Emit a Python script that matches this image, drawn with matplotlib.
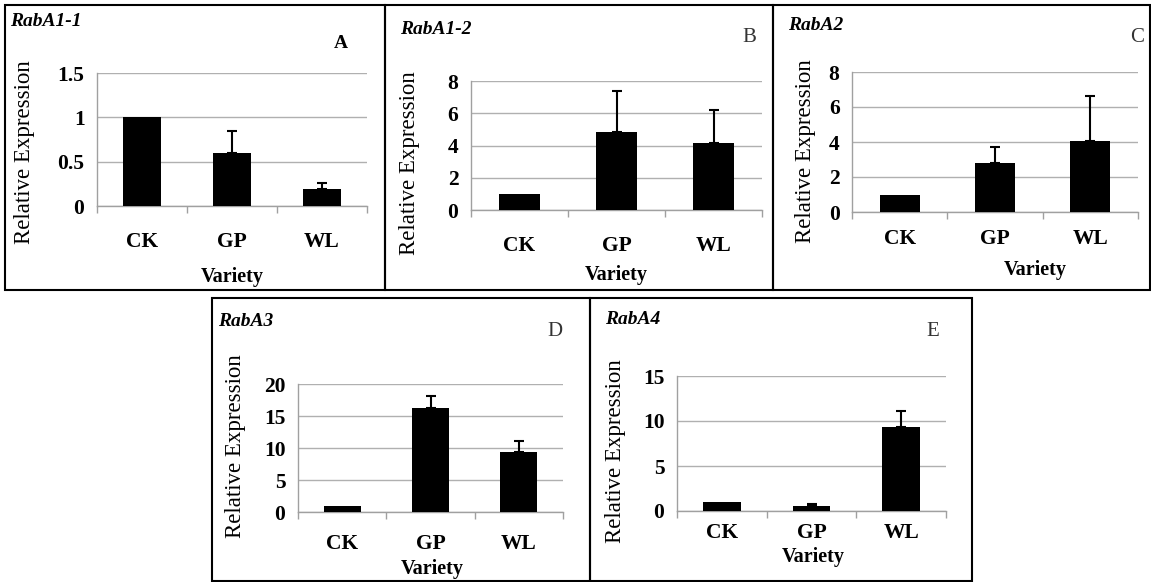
import matplotlib.pyplot as plt
from matplotlib.patches import Rectangle
import numpy as np

varieties = ['CK', 'GP', 'WL']

genes = ['RabA1-1', 'RabA1-2', 'RabA2', 'RabA3', 'RabA4']
letters = ['A', 'B', 'C', 'D', 'E']

means = [
    [1.0, 0.60, 0.19],
    [1.0, 4.82, 4.14],
    [1.0, 2.80, 4.06],
    [1.0, 16.2, 9.3],
    [1.0, 0.55, 9.33],
]
errors = [
    [0.0, 0.25, 0.07],
    [0.0, 2.57, 2.07],
    [0.0, 0.91, 2.57],
    [0.0, 2.0, 1.8],
    [0.0, 0.27, 1.8],
]
y_max = [1.5, 8, 8, 20, 15]
y_step = [0.5, 2, 2, 5, 5]

W, H = 1151, 582

# layout in pixels (x0, y0, x1, y1)
axes_px = [
    (97, 73, 367, 206),
    (471, 81, 762, 210),
    (852, 72, 1138, 212),
    (298, 384, 563, 512),
    (677, 376, 946, 511),
]
boxes_px = [
    (5, 5, 385, 290),
    (385, 5, 773, 290),
    (773, 5, 1150, 290),
    (212, 298, 590, 581),
    (590, 298, 972, 581),
]
title_px = [(10, 22), (400, 30), (788, 26), (218, 322), (605, 320)]
letter_px = [(341, 44), (749, 38), (1137, 38), (555, 331), (933, 331)]
ylabel_px = [(25, 152), (410, 163), (805, 151), (235, 446), (615, 451)]
variety_px = [(232, 277), (616, 275), (1035, 270), (432, 569), (813, 557)]
xpad = [19, 19, 12, 16, 9]

SERIF = 'Liberation Serif'
plt.rcParams['font.family'] = [SERIF, 'DejaVu Serif']

fig = plt.figure(figsize=(W / 100, H / 100), dpi=100)


def fx(x):
    return x / W


def fy(y):
    return 1 - y / H


for i in range(5):
    x0, y0, x1, y1 = axes_px[i]
    ax = fig.add_axes([fx(x0), fy(y1), (x1 - x0) / W, (y1 - y0) / H])

    pos = np.arange(len(varieties))
    ax.bar(pos, means[i], width=0.42, color='black', zorder=3)
    err = np.array(errors[i])
    m = err > 0
    ax.errorbar(pos[m], np.array(means[i])[m], yerr=[np.zeros(m.sum()), err[m]],
                fmt='none', ecolor='black', elinewidth=1.5, capsize=3.5,
                capthick=1.5, zorder=4)

    ax.set_xlim(-0.5, 2.5)
    ax.set_ylim(0, y_max[i])
    ticks = np.arange(0, y_max[i] + y_step[i] / 2, y_step[i])
    ax.set_yticks(ticks)
    ax.set_yticklabels(['%g' % t for t in ticks])
    ax.set_xticks(pos)
    ax.set_xticklabels(varieties)
    ax.set_xticks([-0.5, 0.5, 1.5, 2.5], minor=True)

    ax.tick_params(axis='x', which='major', length=0, pad=xpad[i], labelsize=15.5)
    ax.tick_params(axis='x', which='minor', length=5, color='#a0a0a0', width=1)
    ax.tick_params(axis='y', length=0, pad=9, labelsize=15.5)
    for lab in ax.get_xticklabels() + ax.get_yticklabels():
        lab.set_fontweight('bold')
        lab.set_family(SERIF)

    ax.grid(axis='y', color='#b0b0b0', linewidth=1, zorder=0)
    ax.set_axisbelow(True)
    for s in ['top', 'right']:
        ax.spines[s].set_visible(False)
    for s in ['left', 'bottom']:
        ax.spines[s].set_color('#a0a0a0')
        ax.spines[s].set_linewidth(1)

    tx, ty = title_px[i]
    fig.text(fx(tx), fy(ty), genes[i], fontsize=14, fontweight='bold',
             fontstyle='italic', family=SERIF, ha='left', va='center')
    lx, ly = letter_px[i]
    if i == 0:
        fig.text(fx(lx), fy(ly), letters[i], fontsize=14, fontweight='bold',
                 family=SERIF, ha='center', va='center')
    else:
        fig.text(fx(lx), fy(ly), letters[i], fontsize=15, color='#333333',
                 family=SERIF, ha='center', va='center')
    yx, yy = ylabel_px[i]
    fig.text(fx(yx), fy(yy), 'Relative Expression', fontsize=16.5,
             family=SERIF, rotation=90, ha='center', va='center')
    vx, vy = variety_px[i]
    fig.text(fx(vx), fy(vy), 'Variety', fontsize=14.5, fontweight='bold',
             family=SERIF, ha='center', va='center')

    bx0, by0, bx1, by1 = boxes_px[i]
    fig.add_artist(Rectangle((fx(bx0), fy(by1)), (bx1 - bx0) / W, (by1 - by0) / H,
                             transform=fig.transFigure, fill=False,
                             edgecolor='black', linewidth=1.5))

fig.savefig('out.png', dpi=100)
